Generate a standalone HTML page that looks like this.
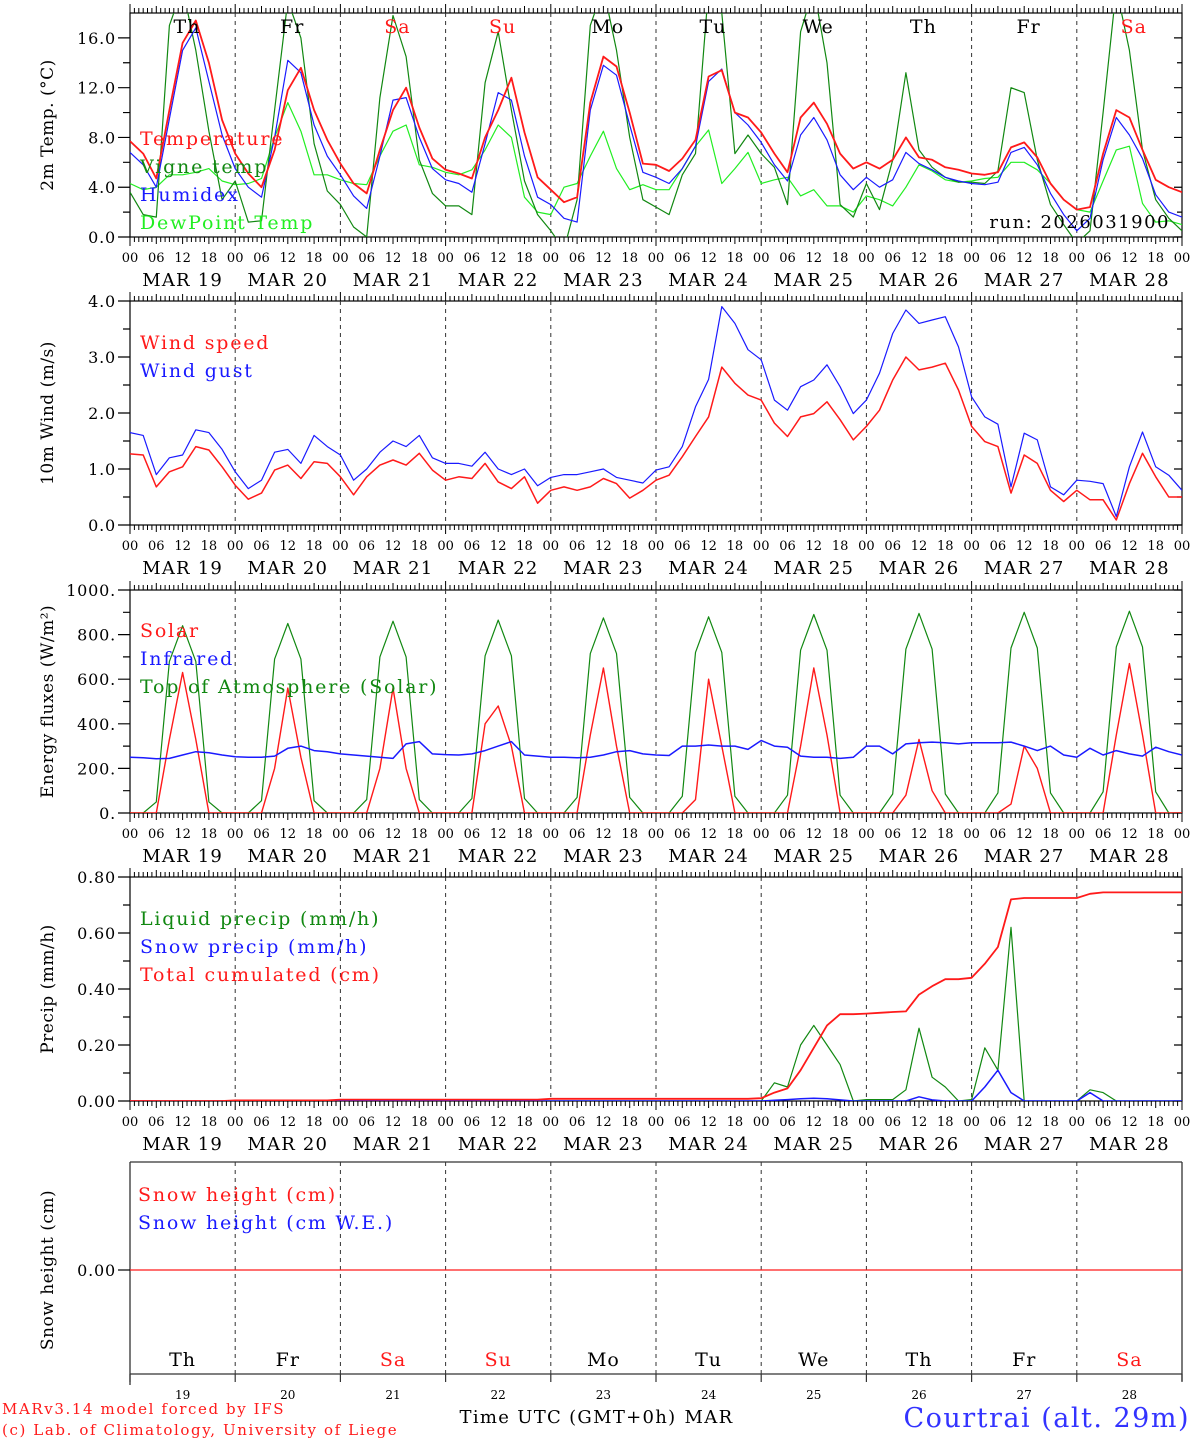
<!DOCTYPE html>
<html><head><meta charset="utf-8"><style>
body{margin:0;background:#fff;}
svg{display:block;font-family:"DejaVu Serif","Liberation Serif",serif;}
</style></head><body>
<svg id="chart" width="1194" height="1440" viewBox="0 0 1194 1440" xmlns="http://www.w3.org/2000/svg"></svg>
<script>
// ---- data (3-hourly, 81 points from MAR 19 00h to MAR 29 00h) ----
const days = ["Th","Fr","Sa","Su","Mo","Tu","We","Th","Fr","Sa"];
const dayNums = ["19","20","21","22","23","24","25","26","27","28"];
const hourTicks = ["00","06","12","18"];
const tempTicks = [0,4,8,12,16];
const windTicks = [0,1,2,3,4];
const energyTicks = [0,200,400,600,800,1000];
const precipTicks = [0,0.2,0.4,0.6,0.8];

const temperature = [7.7,6.7,4.7,10.2,15.6,17.4,14,9.4, 6.7,5.1,4.0,7.0,11.8,13.6,10.2,7.8, 5.9,4.3,3.5,7.0,10.2,12.0,8.8,6.3, 5.4,5.1,4.7,8.0,10.2,12.8,8.4,4.8, 3.8,2.8,3.2,10.8,14.5,13.7,10,5.9, 5.8,5.3,6.3,7.8,12.9,13.4,10,9.6, 8.4,6.7,5.2,9.6,10.8,9.1,6.7,5.5, 6.0,5.5,6.2,8.0,6.4,6.2,5.6,5.4, 5.1,5.0,5.2,7.2,7.6,6.4,4.3,3.0, 2.2,2.4,6.7,10.2,9.6,7.0,4.6,4.0, 3.6];
const vigne = [3.6,1.8,1.6,17,20,15,8.5,3.0, 4.5,1.2,1.3,10.2,19,16,7.5,3.7, 2.6,0.8,0.0,11.2,17.8,14.5,6.2,3.5, 2.5,2.5,1.8,12.4,16.5,10.2,4.5,1.8, 0.5,-1,3.0,17,20,15,8,3, 2.4,1.8,5.0,6.7,20,18,6.7,8.2, 6.7,5.6,2.6,16.5,20,14,2.6,1.6, 4.3,2.2,6.2,13.2,7.0,5.6,4.8,4.4, 4.4,4.3,5.3,12,11.6,6.2,2.6,1.0, -0.5,0.5,10,20,15,7,3,1.5, 0.5];
const humidex = [6.8,5.8,4.0,9.5,15,16.8,12.5,8.2, 5.5,4.0,3.2,8,14.2,13.2,9,6.5, 5,3.3,2.3,6.5,11,11.2,8,5.5, 4.6,4.3,3.6,7.5,11.6,11.0,6.5,3.2, 2.6,1.5,1.2,10.2,13.8,13,9,5.2, 4.8,4.3,5.5,7.3,12.5,13.5,10,9.0, 7.6,5.8,4.5,8.2,9.6,7.8,5.0,3.8, 4.8,4.0,4.6,6.8,5.9,5.4,4.8,4.5, 4.3,4.2,4.4,6.8,7.2,5.8,3.5,1.8, 0.5,1.5,6.2,9.6,8.2,6.3,3.4,2.0, 1.6];
const dewpoint = [4.3,3.8,4.0,5.0,5.0,5.2,5.5,4.5, 4.2,4.3,4.7,8.0,10.8,8.5,5.0,5.0, 4.6,4.3,4.2,6.5,8.5,9.0,5.8,5.6, 5.2,5.0,5.4,7.0,9.0,8.0,3.2,2.0, 1.8,4.0,4.3,6.5,8.5,5.5,3.8,4.2, 3.8,3.8,5.5,7.3,8.6,4.3,5.5,6.8, 4.3,4.6,4.8,3.3,3.8,2.5,2.5,2.0, 3.3,3.0,2.5,4.0,5.8,5.3,4.6,4.4, 4.5,4.7,4.8,6.0,6.0,5.4,4.3,3.0, 2.2,2.0,4.5,7.0,7.3,2.7,1.2,1.3, 1.0];

const windSpeed = [1.27,1.25,0.68,0.95,1.04,1.4,1.34,1.04, 0.71,0.46,0.57,0.98,1.07,0.83,1.13,1.1, 0.86,0.54,0.86,1.07,1.16,1.07,1.28,0.98, 0.8,0.86,0.83,1.1,0.77,0.65,0.86,0.39, 0.62,0.68,0.62,0.68,0.83,0.74,0.48,0.62, 0.8,0.89,1.22,1.58,1.93,2.82,2.53,2.32, 2.23,1.82,1.58,1.93,1.99,2.2,1.88,1.52, 1.76,2.05,2.59,3.0,2.77,2.82,2.89,2.41, 1.76,1.49,1.4,0.57,1.25,1.1,0.62,0.42, 0.62,0.45,0.45,0.09,0.74,1.28,0.86,0.5, 0.5];
const windGust = [1.65,1.6,0.9,1.2,1.25,1.7,1.65,1.35, 0.95,0.65,0.8,1.3,1.35,1.1,1.6,1.4, 1.25,0.8,1.0,1.3,1.5,1.4,1.6,1.2, 1.1,1.1,1.05,1.3,1.0,0.9,1.0,0.7, 0.85,0.9,0.9,0.95,1.0,0.85,0.8,0.75, 0.98,1.04,1.4,2.11,2.6,3.9,3.6,3.13, 2.95,2.23,2.05,2.47,2.59,2.86,2.47,1.99, 2.23,2.71,3.42,3.84,3.6,3.66,3.72,3.18, 2.29,1.93,1.8,0.68,1.64,1.52,0.68,0.54, 0.8,0.78,0.74,0.15,1.04,1.66,1.04,0.89, 0.62];

const solar = [0,0,0,330,630,330,0,0, 0,0,0,200,560,250,0,0, 0,0,0,200,560,200,0,0, 0,0,0,400,480,300,0,0, 0,0,0,350,650,300,0,0, 0,0,0,60,600,300,0,0, 0,0,0,300,650,350,0,0, 0,0,0,80,330,100,0,0, 0,0,0,40,300,200,0,0, 0,0,0,350,670,350,0,0, 0];
const toa = [0,0,50,680,840,680,50,0, 0,0,55,690,850,690,55,0, 0,0,60,700,860,700,60,0, 0,0,65,705,865,705,65,0, 0,0,70,715,875,715,70,0, 0,0,75,720,880,720,75,0, 0,0,80,730,890,730,80,0, 0,0,85,735,895,735,85,0, 0,0,90,740,900,740,90,0, 0,0,95,745,905,745,95,0, 0];
const infrared = [250,248,243,245,260,275,270,260, 252,250,250,255,290,300,280,275, 265,260,255,250,245,310,320,265, 262,260,265,280,300,320,260,255, 250,250,248,250,260,275,280,265, 260,258,300,300,305,300,300,285, 325,300,295,255,250,250,245,250, 300,300,265,310,315,318,315,310, 315,315,315,318,300,280,300,260, 250,290,260,280,265,255,295,275, 260];

const liquid = [0,0,0,0,0,0,0,0, 0,0,0,0,0,0,0,0, 0,0,0,0,0,0,0,0, 0,0,0,0,0,0,0,0, 0,0,0,0,0,0,0,0, 0,0,0,0,0,0,0,0, 0,0.065,0.05,0.2,0.27,0.2,0.13,0, 0.005,0.005,0.005,0.04,0.26,0.085,0.05,0, 0.005,0.19,0.11,0.62,0,0,0,0, 0,0.04,0.03,0,0,0,0,0, 0];
const snow = [0,0,0,0,0,0,0,0, 0,0,0,0,0,0,0,0, 0,0,0,0,0,0,0,0, 0,0,0,0,0,0,0,0, 0,0,0,0,0,0,0,0, 0,0,0,0,0,0,0,0, 0,0.003,0.005,0.008,0.01,0.008,0.004,0, 0,0,0,0,0.015,0.004,0,0, 0,0.05,0.11,0.03,0,0,0,0, 0,0.03,0,0,0,0,0,0, 0];
const cumulated = [0,0,0,0,0,0,0,0, 0.002,0.002,0.002,0.002,0.002,0.002,0.002,0.002, 0.005,0.005,0.005,0.005,0.005,0.005,0.005,0.005, 0.005,0.005,0.005,0.005,0.005,0.005,0.005,0.005, 0.008,0.008,0.008,0.008,0.008,0.008,0.008,0.008, 0.008,0.008,0.008,0.008,0.008,0.008,0.008,0.008, 0.01,0.03,0.045,0.11,0.19,0.27,0.31,0.31, 0.312,0.315,0.318,0.32,0.38,0.41,0.435,0.435, 0.44,0.49,0.55,0.72,0.725,0.725,0.725,0.725, 0.725,0.74,0.745,0.745,0.745,0.745,0.745,0.745, 0.745];
const snowHeight = [0,0];

// ---- geometry ----
const svg = document.getElementById('chart');
const NS = "http://www.w3.org/2000/svg";
const X0 = 130, X1 = 1182, NH = 240;
function xh(h){ return X0 + (X1 - X0) * h / NH; }
function mk(tag, attrs, parent){
  const e = document.createElementNS(NS, tag);
  for (const k in attrs) e.setAttribute(k, attrs[k]);
  (parent || svg).appendChild(e);
  return e;
}
function txt(s, x, y, size, fill, anchor, parent, ls){
  const t = mk('text', {x:x, y:y, 'font-size':size, fill:fill, 'text-anchor':anchor||'start'}, parent);
  if (ls) t.setAttribute('letter-spacing', ls);
  t.textContent = s;
  return t;
}

const panels = [
  {name:'temperature-panel', top:13, bot:237, min:0, max:18, ticks:tempTicks, fmt:v=>v.toFixed(1), minor:[2,6,10,14], title:'2m Temp. (\u00B0C)'},
  {name:'wind-panel', top:301, bot:525, min:0, max:4, ticks:windTicks, fmt:v=>v.toFixed(1), minor:[0.5,1.5,2.5,3.5], title:'10m Wind (m/s)'},
  {name:'energy-panel', top:590, bot:813, min:0, max:1000, ticks:energyTicks, fmt:v=>v.toFixed(0)+'.', minor:[100,300,500,700,900], title:'Energy fluxes (W/m\u00B2)'},
  {name:'precip-panel', top:877, bot:1101, min:0, max:0.8, ticks:precipTicks, fmt:v=>v.toFixed(2), minor:[0.1,0.3,0.5,0.7], title:'Precip (mm/h)'}
];

function yScale(p){ return v => p.bot - (p.bot - p.top) * (v - p.min) / (p.max - p.min); }

panels.forEach((p, pi) => {
  const g = mk('g', {});
  
  
  const ys = yScale(p);
  const cp = mk('clipPath', {id:'clip'+pi}, g);
  mk('rect', {x:X0, y:p.top, width:X1-X0, height:p.bot-p.top}, cp);
  mk('rect', {x:X0, y:p.top, width:X1-X0, height:p.bot-p.top, fill:'none', stroke:'#000', 'stroke-width':1.2}, g);
  for (let d = 1; d < 10; d++){
    const l = mk('line', {x1:xh(d*24), x2:xh(d*24), y1:p.top, y2:p.bot, stroke:'#333', 'stroke-dasharray':'4,4', 'stroke-width':1}, g);
    
    
  }
  let tk = '';
  for (let h = 0; h <= NH; h++){
    const x = xh(h).toFixed(1);
    const len = (h % 24 === 0) ? 9 : (h % 6 === 0 ? 7 : 5);
    tk += `M${x} ${p.bot}v${len}M${x} ${p.top}v${-len}`;
  }
  mk('path', {d:tk, stroke:'#000', 'stroke-width':1, fill:'none'}, g);
  let yt = '';
  p.ticks.forEach(v => { const y = ys(v); yt += `M${X0-12} ${y}H${X0}M${X1} ${y}h-8`; });
  p.minor.forEach(v => { const y = ys(v); yt += `M${X0-7} ${y}H${X0}M${X1} ${y}h-5`; });
  mk('path', {d:yt, stroke:'#000', 'stroke-width':1.2, fill:'none'}, g);
  p.ticks.forEach(v => {
    const t = txt(p.fmt(v), X0-14, ys(v)+6, 16, '#000', 'end', g, 0.8);
    
    
  });
  const cy = (p.top + p.bot)/2;
  const tt = txt(p.title, 0, 0, 17, '#000', 'middle', g, 0.5);
  tt.setAttribute('transform', `translate(53,${cy}) rotate(-90)`);
  
  
  for (let d = 0; d < 10; d++){
    hourTicks.forEach((s, k) => {
      const t = txt(s, xh(d*24 + k*6), p.bot+25, 13, '#000', 'middle', g);
      
      
    });
    const dt = txt('MAR ' + dayNums[d], xh(d*24+12), p.bot+49, 18, '#000', 'middle', g, 1.2);
    
    
  }
  const t = txt('00', X1, p.bot+25, 13, '#000', 'middle', g);
  
  
  p.g = g; p.ys = ys;
});

function series(pi, arr, color, width, name){
  const p = panels[pi];
  const pts = arr.map((v, i) => `${xh(i*3).toFixed(1)},${p.ys(v).toFixed(1)}`).join(' ');
  const l = mk('polyline', {points:pts, fill:'none', stroke:color, 'stroke-width':width, 'clip-path':`url(#clip${pi})`, 'stroke-linejoin':'round'}, p.g);
  
  
}
function legend(pi, items, x, y0){
  const p = panels[pi];
  items.forEach((it, k) => {
    const t = txt(it[0], x, y0 + k*28, 19, it[1], 'start', p.g, 1.8);
    
    
  });
}

series(0, dewpoint, '#22ee22', 1.2, 'dewpoint-line');
series(0, vigne, '#118811', 1.2, 'vigne-temp-line');
series(0, humidex, '#1a1aff', 1.2, 'humidex-line');
series(0, temperature, '#ff1a1a', 1.8, 'temperature-line');
legend(0, [['Temperature','#ff1a1a'],['Vigne temp','#118811'],['Humidex','#1a1aff'],['DewPoint Temp','#22ee22']], 140, 145);
for (let d = 0; d < 10; d++){
  const t = txt(days[d], xh(d*24+13), 33, 19, (days[d]==='Sa'||days[d]==='Su')?'#ff1a1a':'#000', 'middle', panels[0].g, 1);
  
  
}
const run = txt('run: 2026031900', 1170, 228, 18, '#000', 'end', panels[0].g, 1.5);



series(1, windGust, '#1a1aff', 1.2, 'wind-gust-line');
series(1, windSpeed, '#ff1a1a', 1.5, 'wind-speed-line');
legend(1, [['Wind speed','#ff1a1a'],['Wind gust','#1a1aff']], 140, 349);

series(2, toa, '#118811', 1.2, 'toa-solar-line');
series(2, solar, '#ff1a1a', 1.4, 'solar-line');
series(2, infrared, '#1a1aff', 1.5, 'infrared-line');
legend(2, [['Solar','#ff1a1a'],['Infrared','#1a1aff'],['Top of Atmosphere (Solar)','#118811']], 140, 637);

series(3, liquid, '#118811', 1.2, 'liquid-precip-line');
series(3, snow, '#1a1aff', 1.5, 'snow-precip-line');
series(3, cumulated, '#ff1a1a', 1.8, 'cumulated-precip-line');
legend(3, [['Liquid precip (mm/h)','#118811'],['Snow precip (mm/h)','#1a1aff'],['Total cumulated (cm)','#ff1a1a']], 140, 925);

const g5 = mk('g', {});


mk('path', {d:`M${X0} 1162H${X1}M${X0} 1162V1385M${X1} 1162V1381M${X0} 1374H${X1}`, stroke:'#333', 'stroke-width':1.3, fill:'none'}, g5);
for (let d = 1; d < 10; d++){
  const l = mk('line', {x1:xh(d*24), x2:xh(d*24), y1:1162, y2:1374, stroke:'#333', 'stroke-dasharray':'4,4', 'stroke-width':1}, g5);
  
  
}
let t5 = '';
for (let d = 0; d <= 10; d++){ t5 += `M${xh(d*24)} 1374v8`; }
mk('path', {d:t5, stroke:'#333', 'stroke-width':1.2}, g5);
const snowY = v => 1270 - v * 100;
const sh = mk('line', {x1:X0, x2:X1, y1:snowY(snowHeight[0]), y2:snowY(snowHeight[1]), stroke:'#ff1a1a', 'stroke-width':1.3}, g5);


mk('line', {x1:X0-12, x2:X0, y1:1270, y2:1270, stroke:'#000', 'stroke-width':1.2}, g5);
const z = txt('0.00', X0-14, 1276, 16, '#000', 'end', g5, 0.8);


const st = txt('Snow height (cm)', 0, 0, 17, '#000', 'middle', g5, 0.5);
st.setAttribute('transform', 'translate(53,1270) rotate(-90)');


[['Snow height (cm)','#ff1a1a'],['Snow height (cm W.E.)','#1a1aff']].forEach((it,k) => {
  const t = txt(it[0], 138, 1201 + k*28, 19, it[1], 'start', g5, 1.8);
  
  
});
for (let d = 0; d < 10; d++){
  const t = txt(days[d], xh(d*24+12), 1366, 19, (days[d]==='Sa'||days[d]==='Su')?'#ff1a1a':'#000', 'middle', g5, 1);
  
  
  const n = txt(dayNums[d], xh(d*24+12), 1399, 12, '#000', 'middle', g5);
  
  
}
const xt = txt('Time UTC (GMT+0h)', 568, 1423, 18, '#000', 'middle', null, 1.3);


const mar = txt('MAR', 709, 1423, 18, '#000', 'middle', null, 1.3);


const c1 = txt('MARv3.14 model forced by IFS', 2, 1414, 15, '#ff1a1a', 'start', null, 1.6);


const c2 = txt('(c) Lab. of Climatology, University of Liege', 2, 1435, 15, '#ff1a1a', 'start', null, 1.6);


const loc = txt('Courtrai (alt. 29m)', 1190, 1427, 27, '#3333ff', 'end', null, 1.5);


</script>
</body></html>
